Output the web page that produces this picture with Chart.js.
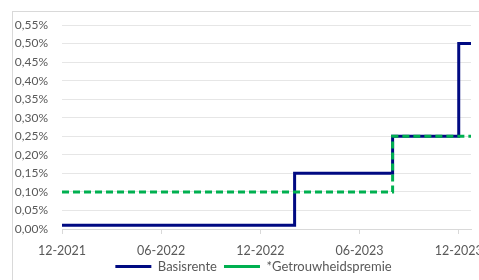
<!DOCTYPE html>
<html>
<head>
<meta charset="utf-8">
<script src="https://cdn.jsdelivr.net/npm/chart.js@4"></script>
<style>
  body { margin: 0; background: #fff; }
  #wrap { position: relative; width: 479px; height: 280px; }
</style>
</head>
<body>
<div id="wrap"><canvas id="rateChart"></canvas></div>
<script>
// dates where the rates change (last one = end of series)
const dates = ['2021-12-01', '2023-02-03', '2023-08-01', '2023-12-01', '2023-12-24'];
const basisrente = [0.01, 0.15, 0.25, 0.50, 0.50];
const getrouwheidspremie = [0.10, 0.10, 0.25, 0.25, 0.25];
const xTicks = ['12-2021', '06-2022', '12-2022', '06-2023', '12-2023'];

// months since 12-2021
function monthIdx(s) {
    const [y, m, d] = s.split('-').map(Number);
    const dim = new Date(y, m, 0).getDate();
    return (y - 2021) * 12 + (m - 12) + (d - 1) / dim;
}

const toPoints = vals => vals.map((v, i) => ({ x: monthIdx(dates[i]), y: v }));

// light frame around the chart + legend nudged like the excel frame
const frame = {
    id: 'frame',
    afterLayout(chart) {
        const lg = chart.legend;
        lg.left += 12;
        lg.right += 12;
        lg.top -= 5;
        lg.bottom -= 5;
    },
    beforeDraw(chart) {
        const c = chart.ctx;
        c.save();
        c.strokeStyle = '#d9d9d9';
        c.lineWidth = 1;
        c.strokeRect(12.5, 11.5, 480, 280);
        c.restore();
    }
};

Chart.defaults.font.family = 'Lato, sans-serif';
Chart.defaults.font.size = 12;
Chart.defaults.color = '#595959';

const ctx = document.getElementById('rateChart').getContext('2d');
new Chart(ctx, {
    type: 'line',
    data: {
        datasets: [{
            label: 'Basisrente',
            data: toPoints(basisrente),
            borderColor: '#000a82',
            backgroundColor: '#000a82',
            borderWidth: 3,
            stepped: true,
            pointRadius: 0,
            order: 2
        }, {
            label: '*Getrouwheidspremie',
            data: toPoints(getrouwheidspremie),
            borderColor: '#00b050',
            backgroundColor: '#00b050',
            borderWidth: 3,
            borderDash: [7, 4],
            stepped: true,
            pointRadius: 0,
            order: 1
        }]
    },
    options: {
        responsive: true,
        maintainAspectRatio: false,
        animation: false,
        layout: { padding: { left: 12, right: 8, top: 25, bottom: -8 } },
        scales: {
            x: {
                type: 'linear',
                min: 0,
                max: monthIdx(dates[dates.length - 1]),
                afterBuildTicks(axis) {
                    axis.ticks = xTicks.map((t, i) => ({ value: i * 6 }));
                },
                afterFit(axis) {
                    axis.paddingLeft = 0;
                    axis.paddingRight = 0;
                    axis.height = 29;
                },
                ticks: {
                    autoSkip: false,
                    maxRotation: 0,
                    padding: 9,
                    font: { size: 12.5 },
                    callback: (v) => xTicks[Math.round(v / 6)]
                },
                grid: { drawOnChartArea: false, color: '#d9d9d9', tickLength: 5 },
                border: { color: '#d9d9d9' }
            },
            y: {
                min: 0,
                max: 0.55,
                ticks: {
                    stepSize: 0.05,
                    padding: 14,
                    callback: (v) => (Math.round(v * 100) / 100).toFixed(2).replace('.', ',') + '%'
                },
                grid: { color: '#e6e6e6', drawTicks: false },
                border: { display: false },
                afterFit(axis) {
                    axis.width = 50;
                    axis.paddingTop = 0;
                }
            }
        },
        plugins: {
            legend: {
                position: 'bottom',
                labels: {
                    usePointStyle: true,
                    pointStyle: 'line',
                    pointStyleWidth: 36,
                    boxHeight: 12,
                    padding: 7,
                    font: { size: 13 },
                    sort: (a, b) => a.datasetIndex - b.datasetIndex
                }
            },
            tooltip: { enabled: false }
        }
    },
    plugins: [frame]
});
</script>
</body>
</html>
